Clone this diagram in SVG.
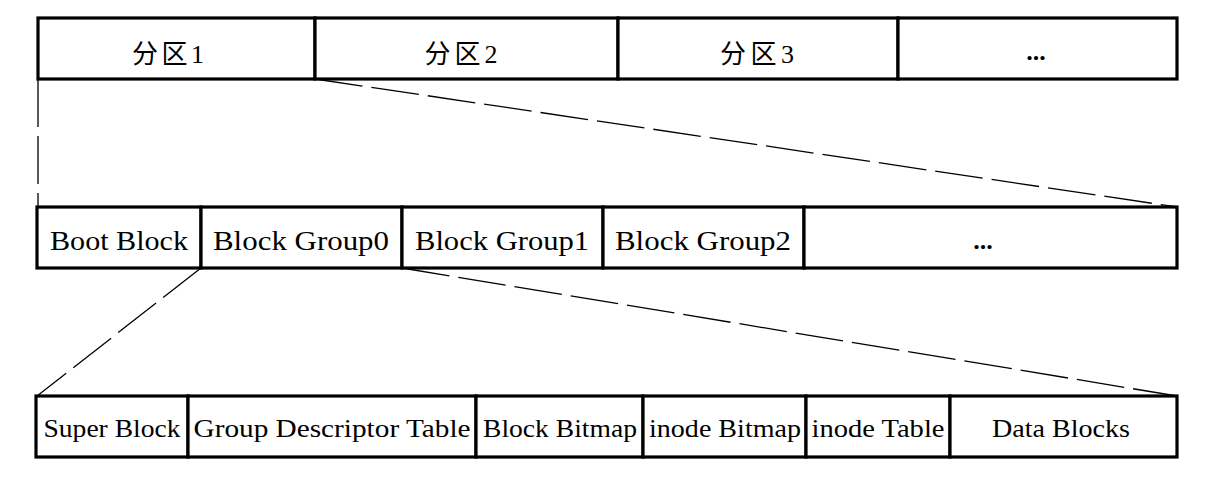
<svg xmlns="http://www.w3.org/2000/svg" width="1228" height="496" viewBox="0 0 1228 496">
<style>
.box{fill:#fff;stroke:#000;stroke-width:3.2}
.t{font-family:"Liberation Serif","Noto Sans CJK SC",serif;fill:#000;text-anchor:middle}
.cn{font-size:26px}
.dots{font-size:26px;font-weight:bold}
.en{font-size:27px}
.sm{font-size:25px}
.dash{fill:none;stroke:#000;stroke-width:1.3;stroke-dasharray:48,9}
</style>
<g id="connectors">
<path class="dash" d="M38,79 V207"/>
<path class="dash" d="M315,79 L1177,207"/>
<path class="dash" d="M201,268 L37,396"/>
<path class="dash" d="M402,268 L1177,396"/>
</g>
<g id="p1"><rect class="box" x="38" y="18" width="277" height="61"/><text class="t cn" x="168" y="63" textLength="72" lengthAdjust="spacing">分区1</text></g>
<g id="p2"><rect class="box" x="315" y="18" width="303" height="61"/><text class="t cn" x="461" y="63" textLength="73" lengthAdjust="spacing">分区2</text></g>
<g id="p3"><rect class="box" x="618" y="18" width="280" height="61"/><text class="t cn" x="757" y="63" textLength="74" lengthAdjust="spacing">分区3</text></g>
<g id="p4"><rect class="box" x="898" y="18" width="279" height="61"/><text class="t dots" x="1036" y="60">...</text></g>

<g id="boot"><rect class="box" x="37" y="207" width="164" height="61"/><text class="t en" x="119" y="250" textLength="138" lengthAdjust="spacingAndGlyphs">Boot Block</text></g>
<g id="bg0"><rect class="box" x="201" y="207" width="201" height="61"/><text class="t en" x="301" y="250" textLength="176" lengthAdjust="spacingAndGlyphs">Block Group0</text></g>
<g id="bg1"><rect class="box" x="402" y="207" width="201" height="61"/><text class="t en" x="502" y="250" textLength="174" lengthAdjust="spacingAndGlyphs">Block Group1</text></g>
<g id="bg2"><rect class="box" x="603" y="207" width="201" height="61"/><text class="t en" x="703" y="250" textLength="176" lengthAdjust="spacingAndGlyphs">Block Group2</text></g>
<g id="bgn"><rect class="box" x="804" y="207" width="373" height="61"/><text class="t dots" x="983" y="249">...</text></g>

<g id="sb"><rect class="box" x="36" y="396" width="152" height="61"/><text class="t sm" x="112" y="437" textLength="137" lengthAdjust="spacingAndGlyphs">Super Block</text></g>
<g id="gdt"><rect class="box" x="188" y="396" width="288" height="61"/><text class="t sm" x="332" y="437" textLength="277" lengthAdjust="spacingAndGlyphs">Group Descriptor Table</text></g>
<g id="bb"><rect class="box" x="476" y="396" width="167" height="61"/><text class="t sm" x="560" y="437" textLength="154" lengthAdjust="spacingAndGlyphs">Block Bitmap</text></g>
<g id="ib"><rect class="box" x="643" y="396" width="163" height="61"/><text class="t sm" x="725" y="437" textLength="152" lengthAdjust="spacingAndGlyphs">inode Bitmap</text></g>
<g id="it"><rect class="box" x="806" y="396" width="144" height="61"/><text class="t sm" x="878" y="437" textLength="133" lengthAdjust="spacingAndGlyphs">inode Table</text></g>
<g id="db"><rect class="box" x="950" y="396" width="227" height="61"/><text class="t sm" x="1061" y="437" textLength="138" lengthAdjust="spacingAndGlyphs">Data Blocks</text></g>
</svg>
